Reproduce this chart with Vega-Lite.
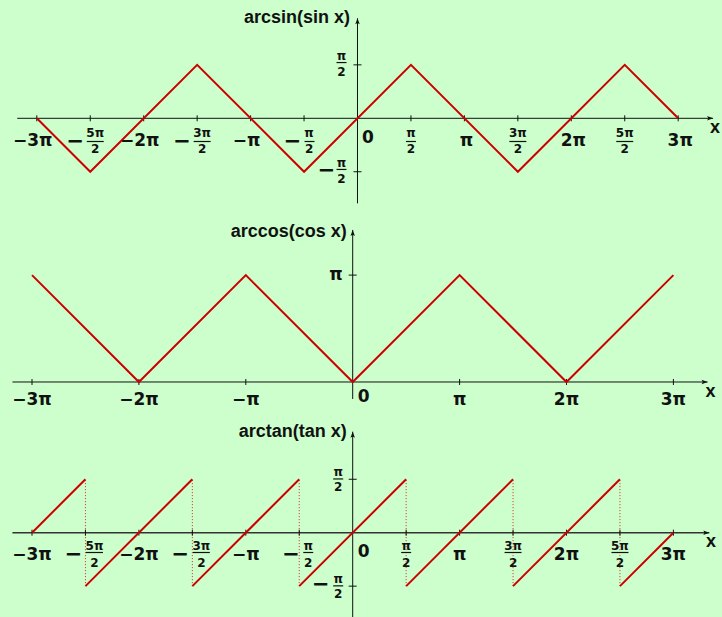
{
  "$schema": "https://vega.github.io/schema/vega-lite/v6.json",
  "background": "#ccffcc",
  "padding": 0,
  "spacing": 0,
  "bounds": "flush",
  "config": {
    "view": {"stroke": null},
    "text": {"font": "DejaVu Sans", "fontWeight": "bold", "color": "#111111"}
  },
  "resolve": {"scale": {"x": "independent", "y": "independent"}},
  "datasets": {
    "asin": [
      {"x": -9.42478, "y": 0},
      {"x": -7.85398, "y": -1.5708},
      {"x": -4.71239, "y": 1.5708},
      {"x": -1.5708, "y": -1.5708},
      {"x": 1.5708, "y": 1.5708},
      {"x": 4.71239, "y": -1.5708},
      {"x": 7.85398, "y": 1.5708},
      {"x": 9.42478, "y": 0}
    ],
    "acos": [
      {"x": -9.42478, "y": 3.14159},
      {"x": -6.28319, "y": 0},
      {"x": -3.14159, "y": 3.14159},
      {"x": 0, "y": 0},
      {"x": 3.14159, "y": 3.14159},
      {"x": 6.28319, "y": 0},
      {"x": 9.42478, "y": 3.14159}
    ],
    "atan": [
      {"seg": 1, "x": -9.42478, "y": 0},
      {"seg": 1, "x": -7.85398, "y": 1.5708},
      {"seg": 2, "x": -7.85398, "y": -1.5708},
      {"seg": 2, "x": -4.71239, "y": 1.5708},
      {"seg": 3, "x": -4.71239, "y": -1.5708},
      {"seg": 3, "x": -1.5708, "y": 1.5708},
      {"seg": 4, "x": -1.5708, "y": -1.5708},
      {"seg": 4, "x": 1.5708, "y": 1.5708},
      {"seg": 5, "x": 1.5708, "y": -1.5708},
      {"seg": 5, "x": 4.71239, "y": 1.5708},
      {"seg": 6, "x": 4.71239, "y": -1.5708},
      {"seg": 6, "x": 7.85398, "y": 1.5708},
      {"seg": 7, "x": 7.85398, "y": -1.5708},
      {"seg": 7, "x": 9.42478, "y": 0}
    ],
    "asymptotes": [
      {"x": -7.85398, "y": -1.5708, "y2": 1.5708},
      {"x": -4.71239, "y": -1.5708, "y2": 1.5708},
      {"x": -1.5708, "y": -1.5708, "y2": 1.5708},
      {"x": 1.5708, "y": -1.5708, "y2": 1.5708},
      {"x": 4.71239, "y": -1.5708, "y2": 1.5708},
      {"x": 7.85398, "y": -1.5708, "y2": 1.5708}
    ],
    "ticksHalf": [
      {"x": -9.42478, "y": 0, "kind": "whole", "sign": "−", "label": "−3π"},
      {"x": -7.85398, "y": 0, "kind": "frac", "sign": "−", "num": "5π", "den": "2"},
      {"x": -6.28319, "y": 0, "kind": "whole", "sign": "−", "label": "−2π"},
      {"x": -4.71239, "y": 0, "kind": "frac", "sign": "−", "num": "3π", "den": "2"},
      {"x": -3.14159, "y": 0, "kind": "whole", "sign": "−", "label": "−π"},
      {"x": -1.5708, "y": 0, "kind": "frac", "sign": "−", "num": "π", "den": "2"},
      {"x": 1.5708, "y": 0, "kind": "frac", "sign": "+", "num": "π", "den": "2"},
      {"x": 3.14159, "y": 0, "kind": "whole", "sign": "+", "label": "π"},
      {"x": 4.71239, "y": 0, "kind": "frac", "sign": "+", "num": "3π", "den": "2"},
      {"x": 6.28319, "y": 0, "kind": "whole", "sign": "+", "label": "2π"},
      {"x": 7.85398, "y": 0, "kind": "frac", "sign": "+", "num": "5π", "den": "2"},
      {"x": 9.42478, "y": 0, "kind": "whole", "sign": "+", "label": "3π"}
    ],
    "ticksWhole": [
      {"x": -9.42478, "y": 0, "label": "−3π"},
      {"x": -6.28319, "y": 0, "label": "−2π"},
      {"x": -3.14159, "y": 0, "label": "−π"},
      {"x": 3.14159, "y": 0, "label": "π"},
      {"x": 6.28319, "y": 0, "label": "2π"},
      {"x": 9.42478, "y": 0, "label": "3π"}
    ],
    "yHalf": [
      {"x": 0, "y": 1.5708, "sign": "+", "num": "π", "den": "2"},
      {"x": 0, "y": -1.5708, "sign": "−", "num": "π", "den": "2"}
    ]
  },
  "vconcat": [
    {
      "width": 722,
      "height": 207,
      "encoding": {
        "x": {"field": "x", "type": "quantitative", "axis": null,
              "scale": {"domain": [-10.5063, 10.7121], "nice": false, "zero": false}},
        "y": {"field": "y", "type": "quantitative", "axis": null,
              "scale": {"domain": [-2.6068, 3.4767], "nice": false, "zero": false}}
      },
      "layer": [
        {"data": {"values": [{"x": -10, "x2": 10.45, "y": 0}]},
         "mark": {"type": "rule", "color": "#111111", "strokeWidth": 1},
         "encoding": {"x2": {"field": "x2"}}},
        {"data": {"values": [{"x": 0, "y": -2.5, "y2": 2.94}]},
         "mark": {"type": "rule", "color": "#111111", "strokeWidth": 1},
         "encoding": {"y2": {"field": "y2"}}},
        {"data": {"values": [{"x": 10.45, "y": 0}]},
         "mark": {"type": "point", "shape": "M0,0L-1.2,-0.45L-0.95,0L-1.2,0.45Z", "size": 100, "filled": true, "color": "#111111", "opacity": 1, "strokeWidth": 0}},
        {"data": {"values": [{"x": 0, "y": 2.94}]},
         "mark": {"type": "point", "shape": "M0,0L-0.45,1.2L0,0.95L0.45,1.2Z", "size": 100, "filled": true, "color": "#111111", "opacity": 1, "strokeWidth": 0}},
        {"data": {"name": "ticksHalf"},
         "mark": {"type": "point", "shape": "M0,-1L0,1", "size": 36, "filled": false, "color": "#111111", "strokeWidth": 1, "opacity": 1}},
        {"data": {"name": "yHalf"},
         "mark": {"type": "point", "shape": "M-1,0L1,0", "size": 64, "filled": false, "color": "#111111", "strokeWidth": 1, "opacity": 1}},
        {"data": {"name": "asin"},
         "mark": {"type": "line", "color": "#cc0000", "strokeWidth": 2}},
        {"data": {"name": "ticksHalf"},
         "transform": [{"filter": "datum.kind === 'whole' && datum.sign === '−'"}],
         "mark": {"type": "text", "fontSize": 17, "align": "center", "baseline": "alphabetic", "dx": -4, "dy": 27.5},
         "encoding": {"text": {"field": "label"}}},
        {"data": {"name": "ticksHalf"},
         "transform": [{"filter": "datum.kind === 'whole' && datum.sign === '+'"}],
         "mark": {"type": "text", "fontSize": 17, "align": "center", "baseline": "alphabetic", "dx": 2, "dy": 27.5},
         "encoding": {"text": {"field": "label"}}},
        {"data": {"values": [{"x": 0, "y": 0, "label": "0"}]},
         "mark": {"type": "text", "fontSize": 17, "align": "left", "baseline": "alphabetic", "dx": 4.5, "dy": 25},
         "encoding": {"text": {"field": "label"}}},
        {"data": {"name": "ticksHalf"},
         "transform": [{"filter": "datum.kind === 'frac' && datum.sign === '−' && datum.num !== 'π'"}],
         "mark": {"type": "text", "fontSize": 21, "align": "center", "baseline": "middle", "dx": -15, "dy": 23.4},
         "encoding": {"text": {"field": "sign"}}},
        {"data": {"name": "ticksHalf"},
         "transform": [{"filter": "datum.kind === 'frac' && datum.sign === '−' && datum.num === 'π'"}],
         "mark": {"type": "text", "fontSize": 21, "align": "center", "baseline": "middle", "dx": -11.5, "dy": 23.4},
         "encoding": {"text": {"field": "sign"}}},
        {"data": {"name": "ticksHalf"},
         "transform": [{"filter": "datum.kind === 'frac' && datum.sign === '−'"}],
         "mark": {"type": "text", "fontSize": 12, "align": "center", "baseline": "alphabetic", "dx": 5, "dy": 18.5},
         "encoding": {"text": {"field": "num"}}},
        {"data": {"name": "ticksHalf"},
         "transform": [{"filter": "datum.kind === 'frac' && datum.sign === '−'"}],
         "mark": {"type": "text", "fontSize": 12, "align": "center", "baseline": "alphabetic", "dx": 5, "dy": 35},
         "encoding": {"text": {"field": "den"}}},
        {"data": {"name": "ticksHalf"},
         "transform": [{"filter": "datum.kind === 'frac' && datum.sign === '+'"}],
         "mark": {"type": "text", "fontSize": 12, "align": "center", "baseline": "alphabetic", "dy": 18.5},
         "encoding": {"text": {"field": "num"}}},
        {"data": {"name": "ticksHalf"},
         "transform": [{"filter": "datum.kind === 'frac' && datum.sign === '+'"}],
         "mark": {"type": "text", "fontSize": 12, "align": "center", "baseline": "alphabetic", "dy": 35},
         "encoding": {"text": {"field": "den"}}},
        {"data": {"name": "ticksHalf"},
         "transform": [{"filter": "datum.kind === 'frac' && datum.sign === '−' && datum.num !== 'π'"}],
         "mark": {"type": "point", "shape": "M-0.35,2.32L1.35,2.32", "size": 400, "filled": false, "color": "#111111", "strokeWidth": 1.2, "opacity": 1}},
        {"data": {"name": "ticksHalf"},
         "transform": [{"filter": "datum.kind === 'frac' && datum.sign === '−' && datum.num === 'π'"}],
         "mark": {"type": "point", "shape": "M0.05,2.32L1.05,2.32", "size": 400, "filled": false, "color": "#111111", "strokeWidth": 1.2, "opacity": 1}},
        {"data": {"name": "ticksHalf"},
         "transform": [{"filter": "datum.kind === 'frac' && datum.sign === '+' && datum.num !== 'π'"}],
         "mark": {"type": "point", "shape": "M-0.85,2.32L0.85,2.32", "size": 400, "filled": false, "color": "#111111", "strokeWidth": 1.2, "opacity": 1}},
        {"data": {"name": "ticksHalf"},
         "transform": [{"filter": "datum.kind === 'frac' && datum.sign === '+' && datum.num === 'π'"}],
         "mark": {"type": "point", "shape": "M-0.5,2.32L0.5,2.32", "size": 400, "filled": false, "color": "#111111", "strokeWidth": 1.2, "opacity": 1}},
        {"data": {"name": "yHalf"},
         "mark": {"type": "text", "fontSize": 12, "align": "center", "baseline": "alphabetic", "dx": -16, "dy": -5},
         "encoding": {"text": {"field": "num"}}},
        {"data": {"name": "yHalf"},
         "mark": {"type": "text", "fontSize": 12, "align": "center", "baseline": "alphabetic", "dx": -16, "dy": 11.4},
         "encoding": {"text": {"field": "den"}}},
        {"data": {"name": "yHalf"},
         "mark": {"type": "point", "shape": "M-2.1,-0.23L-1.1,-0.23", "size": 400, "filled": false, "color": "#111111", "strokeWidth": 1.2, "opacity": 1}},
        {"data": {"name": "yHalf"},
         "transform": [{"filter": "datum.sign === '−'"}],
         "mark": {"type": "text", "fontSize": 21, "align": "center", "baseline": "middle", "dx": -31, "dy": -1},
         "encoding": {"text": {"field": "sign"}}},
        {"data": {"values": [{"x": 10.45, "y": 0, "label": "x"}]},
         "mark": {"type": "text", "font": "Liberation Sans", "fontSize": 18, "align": "left", "baseline": "alphabetic", "dx": -3, "dy": 14.7},
         "encoding": {"text": {"field": "label"}}},
        {"data": {"values": [{"x": 0, "y": 2.94, "label": "arcsin(sin x)"}]},
         "mark": {"type": "text", "font": "Liberation Sans", "fontSize": 18, "align": "right", "baseline": "alphabetic", "dx": -7.5, "dy": 4.4},
         "encoding": {"text": {"field": "label"}}}
      ]
    },
    {
      "width": 722,
      "height": 203,
      "encoding": {
        "x": {"field": "x", "type": "quantitative", "axis": null,
              "scale": {"domain": [-10.3653, 10.8532], "nice": false, "zero": false}},
        "y": {"field": "y", "type": "quantitative", "axis": null,
              "scale": {"domain": [-0.8229, 5.143], "nice": false, "zero": false}}
      },
      "layer": [
        {"data": {"values": [{"x": -10, "x2": 10.43, "y": 0}]},
         "mark": {"type": "rule", "color": "#111111", "strokeWidth": 1},
         "encoding": {"x2": {"field": "x2"}}},
        {"data": {"values": [{"x": 0, "y": -0.5, "y2": 4.47}]},
         "mark": {"type": "rule", "color": "#111111", "strokeWidth": 1},
         "encoding": {"y2": {"field": "y2"}}},
        {"data": {"values": [{"x": 10.43, "y": 0}]},
         "mark": {"type": "point", "shape": "M0,0L-1.2,-0.45L-0.95,0L-1.2,0.45Z", "size": 100, "filled": true, "color": "#111111", "opacity": 1, "strokeWidth": 0}},
        {"data": {"values": [{"x": 0, "y": 4.47}]},
         "mark": {"type": "point", "shape": "M0,0L-0.45,1.2L0,0.95L0.45,1.2Z", "size": 100, "filled": true, "color": "#111111", "opacity": 1, "strokeWidth": 0}},
        {"data": {"name": "ticksWhole"},
         "mark": {"type": "point", "shape": "M0,-1L0,1", "size": 36, "filled": false, "color": "#111111", "strokeWidth": 1, "opacity": 1}},
        {"data": {"values": [{"x": 0, "y": 3.14159}]},
         "mark": {"type": "point", "shape": "M-1,0L1,0", "size": 64, "filled": false, "color": "#111111", "strokeWidth": 1, "opacity": 1}},
        {"data": {"name": "acos"},
         "mark": {"type": "line", "color": "#cc0000", "strokeWidth": 2}},
        {"data": {"name": "ticksWhole"},
         "mark": {"type": "text", "fontSize": 17, "align": "center", "baseline": "alphabetic", "dy": 23},
         "encoding": {"text": {"field": "label"}}},
        {"data": {"values": [{"x": 0, "y": 0, "label": "0"}]},
         "mark": {"type": "text", "fontSize": 17, "align": "left", "baseline": "alphabetic", "dx": 5, "dy": 19.7},
         "encoding": {"text": {"field": "label"}}},
        {"data": {"values": [{"x": 0, "y": 3.14159, "label": "π"}]},
         "mark": {"type": "text", "fontSize": 17, "align": "center", "baseline": "alphabetic", "dx": -16.7, "dy": 5},
         "encoding": {"text": {"field": "label"}}},
        {"data": {"values": [{"x": 10.43, "y": 0, "label": "x"}]},
         "mark": {"type": "text", "font": "Liberation Sans", "fontSize": 18, "align": "left", "baseline": "alphabetic", "dx": -2, "dy": 14.7},
         "encoding": {"text": {"field": "label"}}},
        {"data": {"values": [{"x": 0, "y": 4.47, "label": "arccos(cos x)"}]},
         "mark": {"type": "text", "font": "Liberation Sans", "fontSize": 18, "align": "right", "baseline": "alphabetic", "dx": -6, "dy": 6.7},
         "encoding": {"text": {"field": "label"}}}
      ]
    },
    {
      "width": 722,
      "height": 207,
      "encoding": {
        "x": {"field": "x", "type": "quantitative", "axis": null,
              "scale": {"domain": [-10.3653, 10.8532], "nice": false, "zero": false}},
        "y": {"field": "y", "type": "quantitative", "axis": null,
              "scale": {"domain": [-2.4774, 3.606], "nice": false, "zero": false}}
      },
      "layer": [
        {"data": {"name": "asymptotes"},
         "mark": {"type": "rule", "color": "#e02020", "strokeWidth": 1, "strokeDash": [1, 2]},
         "encoding": {"y2": {"field": "y2"}}},
        {"data": {"values": [{"x": -10, "x2": 10.48, "y": 0}]},
         "mark": {"type": "rule", "color": "#333333", "strokeWidth": 1.5},
         "encoding": {"x2": {"field": "x2"}}},
        {"data": {"values": [{"x": 0, "y": -2.5, "y2": 2.97}]},
         "mark": {"type": "rule", "color": "#111111", "strokeWidth": 1},
         "encoding": {"y2": {"field": "y2"}}},
        {"data": {"values": [{"x": 10.48, "y": 0}]},
         "mark": {"type": "point", "shape": "M0,0L-1.2,-0.45L-0.95,0L-1.2,0.45Z", "size": 100, "filled": true, "color": "#111111", "opacity": 1, "strokeWidth": 0}},
        {"data": {"values": [{"x": 0, "y": 2.97}]},
         "mark": {"type": "point", "shape": "M0,0L-0.45,1.2L0,0.95L0.45,1.2Z", "size": 100, "filled": true, "color": "#111111", "opacity": 1, "strokeWidth": 0}},
        {"data": {"name": "ticksHalf"},
         "mark": {"type": "point", "shape": "M0,-1L0,1", "size": 36, "filled": false, "color": "#111111", "strokeWidth": 1, "opacity": 1}},
        {"data": {"name": "yHalf"},
         "mark": {"type": "point", "shape": "M-1,0L1,0", "size": 64, "filled": false, "color": "#111111", "strokeWidth": 1, "opacity": 1}},
        {"data": {"name": "atan"},
         "mark": {"type": "line", "color": "#cc0000", "strokeWidth": 2},
         "encoding": {"detail": {"field": "seg", "type": "nominal"}}},
        {"data": {"name": "ticksHalf"},
         "transform": [{"filter": "datum.kind === 'whole'"}],
         "mark": {"type": "text", "fontSize": 17, "align": "center", "baseline": "alphabetic", "dy": 27.5},
         "encoding": {"text": {"field": "label"}}},
        {"data": {"values": [{"x": 0, "y": 0, "label": "0"}]},
         "mark": {"type": "text", "fontSize": 17, "align": "left", "baseline": "alphabetic", "dx": 5, "dy": 24},
         "encoding": {"text": {"field": "label"}}},
        {"data": {"name": "ticksHalf"},
         "transform": [{"filter": "datum.kind === 'frac' && datum.sign === '−' && datum.num !== 'π'"}],
         "mark": {"type": "text", "fontSize": 21, "align": "center", "baseline": "middle", "dx": -12, "dy": 22.3},
         "encoding": {"text": {"field": "sign"}}},
        {"data": {"name": "ticksHalf"},
         "transform": [{"filter": "datum.kind === 'frac' && datum.sign === '−' && datum.num === 'π'"}],
         "mark": {"type": "text", "fontSize": 21, "align": "center", "baseline": "middle", "dx": -8.3, "dy": 22.3},
         "encoding": {"text": {"field": "sign"}}},
        {"data": {"name": "ticksHalf"},
         "transform": [{"filter": "datum.kind === 'frac' && datum.sign === '−'"}],
         "mark": {"type": "text", "fontSize": 12, "align": "center", "baseline": "alphabetic", "dx": 9, "dy": 17.3},
         "encoding": {"text": {"field": "num"}}},
        {"data": {"name": "ticksHalf"},
         "transform": [{"filter": "datum.kind === 'frac' && datum.sign === '−'"}],
         "mark": {"type": "text", "fontSize": 12, "align": "center", "baseline": "alphabetic", "dx": 9, "dy": 34},
         "encoding": {"text": {"field": "den"}}},
        {"data": {"name": "ticksHalf"},
         "transform": [{"filter": "datum.kind === 'frac' && datum.sign === '+'"}],
         "mark": {"type": "text", "fontSize": 12, "align": "center", "baseline": "alphabetic", "dy": 17.3},
         "encoding": {"text": {"field": "num"}}},
        {"data": {"name": "ticksHalf"},
         "transform": [{"filter": "datum.kind === 'frac' && datum.sign === '+'"}],
         "mark": {"type": "text", "fontSize": 12, "align": "center", "baseline": "alphabetic", "dy": 34},
         "encoding": {"text": {"field": "den"}}},
        {"data": {"name": "ticksHalf"},
         "transform": [{"filter": "datum.kind === 'frac' && datum.sign === '−' && datum.num !== 'π'"}],
         "mark": {"type": "point", "shape": "M0.05,1.98L1.75,1.98", "size": 400, "filled": false, "color": "#111111", "strokeWidth": 1.2, "opacity": 1}},
        {"data": {"name": "ticksHalf"},
         "transform": [{"filter": "datum.kind === 'frac' && datum.sign === '−' && datum.num === 'π'"}],
         "mark": {"type": "point", "shape": "M0.4,1.98L1.4,1.98", "size": 400, "filled": false, "color": "#111111", "strokeWidth": 1.2, "opacity": 1}},
        {"data": {"name": "ticksHalf"},
         "transform": [{"filter": "datum.kind === 'frac' && datum.sign === '+' && datum.num !== 'π'"}],
         "mark": {"type": "point", "shape": "M-0.85,1.98L0.85,1.98", "size": 400, "filled": false, "color": "#111111", "strokeWidth": 1.2, "opacity": 1}},
        {"data": {"name": "ticksHalf"},
         "transform": [{"filter": "datum.kind === 'frac' && datum.sign === '+' && datum.num === 'π'"}],
         "mark": {"type": "point", "shape": "M-0.5,1.98L0.5,1.98", "size": 400, "filled": false, "color": "#111111", "strokeWidth": 1.2, "opacity": 1}},
        {"data": {"name": "yHalf"},
         "mark": {"type": "text", "fontSize": 12, "align": "center", "baseline": "alphabetic", "dx": -14.5, "dy": -3.5},
         "encoding": {"text": {"field": "num"}}},
        {"data": {"name": "yHalf"},
         "mark": {"type": "text", "fontSize": 12, "align": "center", "baseline": "alphabetic", "dx": -14.5, "dy": 11.5},
         "encoding": {"text": {"field": "den"}}},
        {"data": {"name": "yHalf"},
         "mark": {"type": "point", "shape": "M-1.95,-0.03L-0.95,-0.03", "size": 400, "filled": false, "color": "#111111", "strokeWidth": 1.2, "opacity": 1}},
        {"data": {"name": "yHalf"},
         "transform": [{"filter": "datum.sign === '−'"}],
         "mark": {"type": "text", "fontSize": 21, "align": "center", "baseline": "middle", "dx": -32, "dy": -1},
         "encoding": {"text": {"field": "sign"}}},
        {"data": {"values": [{"x": 10.48, "y": 0, "label": "x"}]},
         "mark": {"type": "text", "font": "Liberation Sans", "fontSize": 18, "align": "left", "baseline": "alphabetic", "dx": -3.3, "dy": 14},
         "encoding": {"text": {"field": "label"}}},
        {"data": {"values": [{"x": 0, "y": 2.97, "label": "arctan(tan x)"}]},
         "mark": {"type": "text", "font": "Liberation Sans", "fontSize": 18, "align": "right", "baseline": "alphabetic", "dx": -6, "dy": 5},
         "encoding": {"text": {"field": "label"}}}
      ]
    }
  ]
}
